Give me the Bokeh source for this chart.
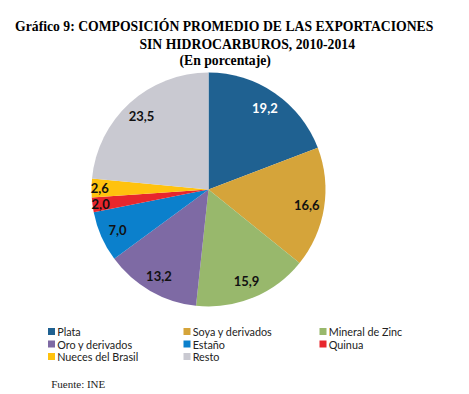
import math
from bokeh.plotting import figure
from bokeh.models import Range1d, ColumnDataSource
from bokeh.core.properties import value
from bokeh.embed import file_html
from bokeh.resources import INLINE

categories = ["Plata", "Soya y derivados", "Mineral de Zinc", "Oro y derivados",
              "Estaño", "Quinua", "Nueces del Brasil", "Resto"]
values = [19.2, 16.6, 15.9, 13.2, 7.0, 2.0, 2.6, 23.5]
labels = ["19,2", "16,6", "15,9", "13,2", "7,0", "2,0", "2,6", "23,5"]
colors = ["#1F6191", "#D5A43A", "#98B86C", "#7E6AA4",
          "#0B80CC", "#E8262C", "#FFC20E", "#C9C9D1"]
label_colors = ["white", "#111111", "#111111", "#111111",
                "#111111", "#111111", "#111111", "#111111"]
legend_order = ["Plata", "Soya y derivados", "Mineral de Zinc",
                "Oro y derivados", "Estaño", "Quinua",
                "Nueces del Brasil", "Resto"]

W, H = 469, 394
p = figure(width=W, height=H, output_backend="svg", toolbar_location=None,
           x_range=Range1d(0, W), y_range=Range1d(0, H), min_border=0)
p.axis.visible = False
p.grid.visible = False
p.outline_line_color = None
p.background_fill_color = "white"

def Y(py):
    return H - py

cx, cy, R = 208, Y(189), 117

# angles (clockwise from top)
starts, ends, lx, ly = [], [], [], []
cum = 0.0
for i, v in enumerate(values):
    f0 = cum
    f1 = cum + v / 100.0
    if i == len(values) - 1:
        f1 = 1.0
    cum = f1
    a0 = math.pi / 2 - f1 * 2 * math.pi
    a1 = math.pi / 2 - f0 * 2 * math.pi
    starts.append(a0)
    ends.append(a1)
    mid = (a0 + a1) / 2
    rr = R * (0.93 if v < 5 else 0.85)
    lx.append(cx + rr * math.cos(mid))
    ly.append(cy + rr * math.sin(mid))

src = ColumnDataSource(dict(start=starts, end=ends, color=colors,
                            x=lx, y=ly, label=labels, lc=label_colors))
p.wedge(x=cx, y=cy, radius=R, start_angle="start", end_angle="end",
        fill_color="color", line_color=None, source=src)
p.text(x="x", y="y", text="label", text_color="lc", source=src,
       text_font=value("Lato"), text_font_style="bold", text_font_size="13px",
       text_align="center", text_baseline="middle")

# title
title_lines = ["Gráfico 9: COMPOSICIÓN PROMEDIO DE LAS EXPORTACIONES",
               "SIN HIDROCARBUROS, 2010-2014", "(En porcentaje)"]
title_x = [223.7, 246.7, 224.7]
title_y = [Y(26), Y(43.5), Y(60)]
p.text(x=title_x, y=title_y, text=title_lines, text_font=value("Liberation Serif"),
       text_font_style="bold", text_font_size="13.7px", text_color="black",
       text_align="center", text_baseline="alphabetic")

# legend
col_x = [47.5, 183, 319]
row_y = [Y(331), Y(343.5), Y(356)]
sq_x, sq_y, tx, ty, names, cols = [], [], [], [], [], []
for k, name in enumerate(legend_order):
    r, c = divmod(k, 3)
    sq_x.append(col_x[c] + 3.5)
    sq_y.append(row_y[r])
    tx.append(col_x[c] + 9.2)
    ty.append(row_y[r])
    names.append(name)
    cols.append(colors[categories.index(name)])
p.rect(x=sq_x, y=sq_y, width=7, height=7, width_units="screen",
       height_units="screen", fill_color=cols, line_color=None)
p.text(x=tx, y=ty, text=names, text_font=value("Lato"), text_font_size="10.8px",
       text_color="#222222", text_align="left", text_baseline="middle")

p.text(x=[50.7], y=[Y(383.3)], text=["Fuente: INE"], text_font=value("Liberation Serif"),
       text_font_size="11px", text_color="#222222", text_align="left",
       text_baseline="alphabetic")

open("out.html", "w").write(file_html(p, INLINE))
